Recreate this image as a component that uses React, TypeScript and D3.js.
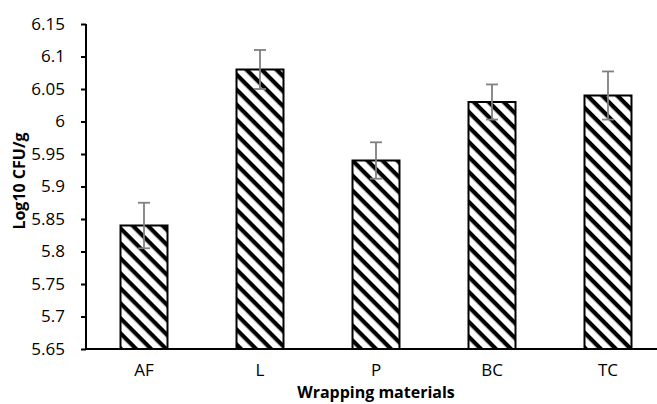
import React, { useEffect, useRef } from "react";
import * as d3 from "d3";

const categories = ["AF", "L", "P", "BC", "TC"];
const means = [5.84, 6.08, 5.94, 6.03, 6.04];
const errors = [0.035, 0.03, 0.028, 0.027, 0.037];
const yTicks = [5.65, 5.7, 5.75, 5.8, 5.85, 5.9, 5.95, 6, 6.05, 6.1, 6.15];

const App = () => {
  const svgRef = useRef<SVGSVGElement>(null);

  useEffect(() => {
    const width = 657;
    const height = 404;
    const margin = { top: 24, right: -9, bottom: 55, left: 86 };

    const svg = d3.select(svgRef.current);
    svg.selectAll("*").remove();
    svg.attr("width", width).attr("height", height);

    const font = "'Open Sans', 'Liberation Sans', sans-serif";

    // hatch pattern
    const defs = svg.append("defs");
    const pat = defs.append("pattern")
      .attr("id", "hatch")
      .attr("patternUnits", "userSpaceOnUse")
      .attr("width", 10.6)
      .attr("height", 10.6)
      .attr("patternTransform", "rotate(45)");
    pat.append("rect").attr("width", 10.6).attr("height", 10.6).attr("fill", "white");
    pat.append("rect").attr("y", 0).attr("width", 10.6).attr("height", 4.2).attr("fill", "black");

    const x = d3.scaleBand()
      .domain(categories)
      .range([margin.left, width - margin.right])
      .paddingInner(0.595)
      .paddingOuter(0.2975);

    const y = d3.scaleLinear()
      .domain([5.65, 6.15])
      .range([height - margin.bottom, margin.top]);

    const data = categories.map((c, i) => ({ c, v: means[i], e: errors[i] }));

    // bars
    svg.append("g")
      .selectAll("rect")
      .data(data)
      .join("rect")
      .attr("x", d => x(d.c)!)
      .attr("y", d => y(d.v))
      .attr("width", x.bandwidth())
      .attr("height", d => y(5.65) - y(d.v))
      .attr("fill", "url(#hatch)")
      .attr("stroke", "black")
      .attr("stroke-width", 2);

    // error bars
    const eb = svg.append("g")
      .attr("stroke", "#808080")
      .attr("stroke-width", 1.8);
    data.forEach(d => {
      const cx = x(d.c)! + x.bandwidth() / 2;
      eb.append("line").attr("x1", cx).attr("x2", cx).attr("y1", y(d.v + d.e)).attr("y2", y(d.v - d.e));
      eb.append("line").attr("x1", cx - 6).attr("x2", cx + 6).attr("y1", y(d.v + d.e)).attr("y2", y(d.v + d.e));
      eb.append("line").attr("x1", cx - 6).attr("x2", cx + 6).attr("y1", y(d.v - d.e)).attr("y2", y(d.v - d.e));
    });

    // y axis
    const yAxis = svg.append("g")
      .attr("transform", `translate(${margin.left},0)`)
      .call(d3.axisLeft(y).tickValues(yTicks).tickSize(5).tickPadding(16).tickFormat(d => d3.format("")(+(+d).toFixed(2))));
    yAxis.select(".domain").attr("stroke-width", 2).attr("d", `M0,${y(6.15)}V${y(5.65)}`);
    yAxis.selectAll(".tick line").attr("stroke-width", 2);
    yAxis.selectAll(".tick text")
      .style("font-family", font)
      .style("font-size", "17px")
      .attr("fill", "#000");

    // x axis
    const xAxis = svg.append("g")
      .attr("transform", `translate(0,${y(5.65)})`)
      .call(d3.axisBottom(x).tickSize(0).tickPadding(15));
    xAxis.select(".domain").attr("stroke-width", 2).attr("d", `M${margin.left},0H${width}`);
    xAxis.selectAll(".tick text")
      .style("font-family", font)
      .style("font-size", "17px")
      .attr("fill", "#000");

    // axis titles
    svg.append("text")
      .attr("x", (margin.left + 666) / 2)
      .attr("y", 398)
      .attr("text-anchor", "middle")
      .style("font-family", font)
      .style("font-weight", "bold")
      .style("font-size", "16px")
      .text("Wrapping materials");

    svg.append("text")
      .attr("transform", "rotate(-90)")
      .attr("x", -181)
      .attr("y", 25)
      .attr("text-anchor", "middle")
      .style("font-family", font)
      .style("font-weight", "bold")
      .style("font-size", "16px")
      .text("Log10 CFU/g");
  }, []);

  return (
    <div style={{ position: "absolute", left: 0, top: 0, width: 657, height: 404, background: "white" }}>
      <svg ref={svgRef} style={{ display: "block" }}></svg>
    </div>
  );
};

export default App;
